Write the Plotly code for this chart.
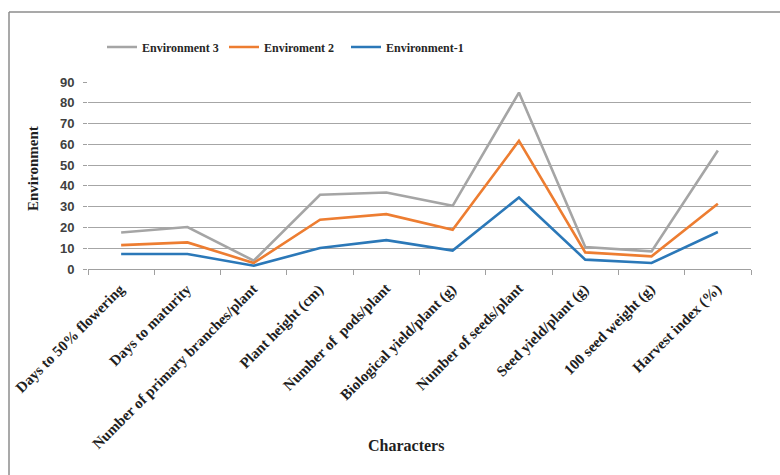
import plotly.graph_objects as go

categories = [
    "Days to 50% flowering",
    "Days to maturity",
    "Number of primary branches/plant",
    "Plant height (cm)",
    "Number of \u00a0pods/plant",
    "Biological yield/plant (g)",
    "Number of seeds/plant",
    "Seed yield/plant (g)",
    "100 seed weight (g)",
    "Harvest index (%)",
]
env3 = [17.6, 20.2, 4.0, 35.7, 36.8, 30.4, 84.9, 10.6, 8.5, 57.0]
env2 = [11.5, 12.8, 2.9, 23.7, 26.4, 18.9, 61.7, 8.0, 6.1, 31.4]
env1 = [7.2, 7.2, 1.6, 10.1, 13.9, 8.9, 34.4, 4.5, 2.9, 17.8]
series_names = ["Environment 3", "Enviroment 2", "Environment-1"]
y_ticks = [0, 10, 20, 30, 40, 50, 60, 70, 80, 90]

colors = ["#a5a5a5", "#ed7d31", "#2b78b8"]
serif = "Liberation Serif"

W, H = 780, 475
L, R, T, B = 88, 29, 82, 206
pw, ph = W - L - R, H - T - B

def px_x(x):
    return (x - L) / pw

def px_y(y):
    return (H - B - y) / ph

fig = go.Figure()
for name, vals, c in zip(series_names, [env3, env2, env1], colors):
    fig.add_trace(go.Scatter(
        x=categories, y=vals, mode="lines", name=name,
        line=dict(color=c, width=2.6),
    ))

annotations = [
    dict(text="Characters", x=px_x(406), y=px_y(445), xref="paper", yref="paper",
         showarrow=False, xanchor="center", yanchor="middle",
         font=dict(family=serif, size=16, color="#1f1f1f", weight="bold")),
    dict(text="Environment", x=px_x(33), y=px_y(169), xref="paper", yref="paper",
         showarrow=False, xanchor="center", yanchor="middle", textangle=-90,
         font=dict(family=serif, size=15, color="#1f1f1f", weight="bold")),
]
for cat in categories:
    annotations.append(dict(
        text=cat, x=cat, xref="x", y=px_y(278), yref="paper",
        showarrow=False, xanchor="right", yanchor="top", textangle=-45,
        xshift=10,
        font=dict(family=serif, size=15, color="#1f1f1f", weight="bold"),
    ))

fig.update_layout(
    width=W, height=H,
    margin=dict(l=L, r=R, t=T, b=B, autoexpand=False),
    paper_bgcolor="white", plot_bgcolor="white",
    showlegend=True,
    legend=dict(
        orientation="h", x=px_x(102), xanchor="left", y=px_y(47), yanchor="middle",
        font=dict(family=serif, size=12, color="#262626", weight="bold"),
        entrywidth=77, entrywidthmode="pixels", traceorder="normal",
        bgcolor="rgba(0,0,0,0)",
    ),
    xaxis=dict(
        type="category", tickson="boundaries", showticklabels=False,
        range=[-0.5, len(categories) - 0.5], autorange=False,
        ticks="outside", ticklen=5, tickcolor="#a0a0a0",
        showline=True, linecolor="#a0a0a0", linewidth=1,
        showgrid=False, automargin=False,
    ),
    yaxis=dict(
        range=[0, 90], autorange=False, tickvals=y_ticks, ticks="outside", ticklen=4,
        tickcolor="#a0a0a0", showline=False, showgrid=True,
        gridcolor="#a6a6a6", gridwidth=1, zeroline=False, automargin=False,
        ticklabelstandoff=6,
        tickfont=dict(family="Liberation Sans", size=13, color="#404040", weight="bold"),
    ),
    annotations=annotations,
    shapes=[
        dict(type="line", xref="paper", yref="paper", x0=px_x(9), x1=px_x(800),
             y0=px_y(12), y1=px_y(12), line=dict(color="#8c8c8c", width=1.5)),
        dict(type="line", xref="paper", yref="paper", x0=px_x(9), x1=px_x(9),
             y0=px_y(12), y1=px_y(500), line=dict(color="#8c8c8c", width=1.5)),
    ],
)

fig.write_html("out.html")
